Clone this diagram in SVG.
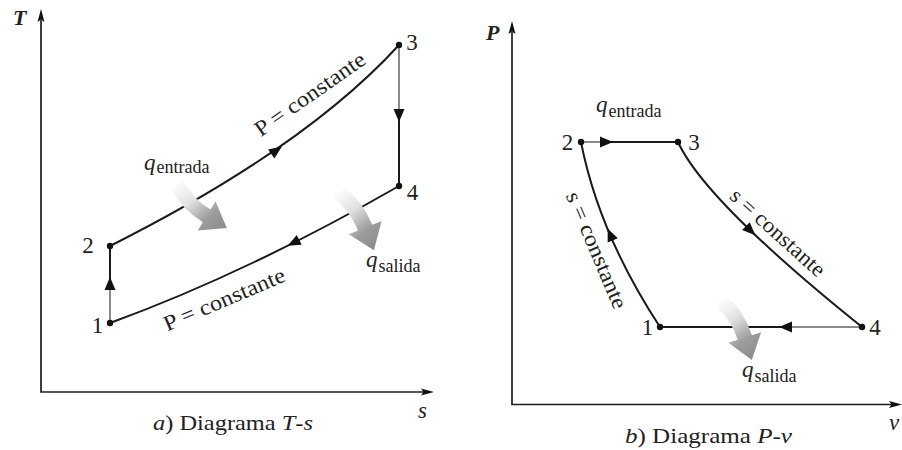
<svg xmlns="http://www.w3.org/2000/svg" xmlns:xlink="http://www.w3.org/1999/xlink" width="902" height="450" viewBox="0 0 902 450" font-family="'Liberation Serif', 'Times New Roman', serif">
<style>
  .ax{fill:none;stroke:#1e1e1e;stroke-width:1.7}
  .ln{fill:none;stroke:#1a1a1a;stroke-width:2}
  .lg{fill:none;stroke:#8a8a8a;stroke-width:2}
  .dot{fill:#111}
  .ah{fill:#111}
  text{font-family:'Liberation Serif','Times New Roman',serif;fill:#222}
  .num{font-size:23px}
  .big{font-size:22px}
  .it{font-style:italic}
  .axl{font-size:22px;font-style:italic;font-weight:bold}
  .q{font-size:23px;font-style:italic}
  .sub{font-size:18px;font-style:normal}
  .heat{fill:url(#hg)}
</style>
<defs>
  <linearGradient id="hg" x1="0" y1="0" x2="1" y2="0">
    <stop offset="0" stop-color="#ffffff"/>
    <stop offset="0.35" stop-color="#e2e2e2"/>
    <stop offset="0.7" stop-color="#9c9c9c"/>
    <stop offset="1" stop-color="#8c8c8c"/>
  </linearGradient>
  <path id="heatArrow" class="heat" d="M0,-7 Q21,-13 43.9,-6.7 L46.4,-15.4 L63.1,6.1 L37.6,15.4 L40.1,6.7 Q21,1 0,7 Z"/>
  <path id="tri" class="ah" d="M6,0 L-7,-5.5 L-7,5.5 Z"/>
</defs>

<!-- T-s diagram axes -->
<g id="ts-axes">
  <path class="ax" d="M41,20 L41,392 L425,392"/>
  <polygon class="ah" points="41,9 37.5,22 41,19.5 44.5,22"/>
  <polygon class="ah" points="434,392 421,388.5 423.5,392 421,395.5"/>
  <text class="axl" x="13" y="25">T</text>
  <text class="num it" x="418" y="418">s</text>
  <text class="big" x="153" y="430" textLength="160" lengthAdjust="spacingAndGlyphs"><tspan class="it">a</tspan>) Diagrama <tspan class="it">T</tspan>-<tspan class="it">s</tspan></text>
</g>

<!-- P-v diagram axes -->
<g id="pv-axes">
  <path class="ax" d="M512,32 L512,404.5 L892,404.5"/>
  <polygon class="ah" points="512,21 508.5,34 512,31.5 515.5,34"/>
  <polygon class="ah" points="902,404.5 889,401 891.5,404.5 889,408"/>
  <text class="axl" x="486" y="40">P</text>
  <text class="num it" x="889" y="430">v</text>
  <text class="big" x="625" y="443" textLength="167" lengthAdjust="spacingAndGlyphs"><tspan class="it">b</tspan>) Diagrama <tspan class="it">P</tspan>-<tspan class="it">v</tspan></text>
</g>

<!-- connectors -->
<g id="connectors">
  <!-- T-s -->
  <path class="lg" d="M110,323 L110,289"/>
  <path class="ln" d="M110,289 L110,246"/>
  <path class="ln" d="M110,246 Q305,148 399,45"/>
  <path class="lg" d="M399,45 L399,110"/>
  <path class="ln" d="M399,110 L399,186"/>
  <path class="ln" d="M399,186 Q247,273 110,323"/>
  <use xlink:href="#tri" href="#tri" transform="translate(110,283) rotate(-90)"/>
  <use xlink:href="#tri" href="#tri" transform="translate(277,150) rotate(-34.5)"/>
  <use xlink:href="#tri" href="#tri" transform="translate(399,116) rotate(90)"/>
  <use xlink:href="#tri" href="#tri" transform="translate(293,243) rotate(153)"/>
  <!-- P-v -->
  <path class="lg" d="M581,142 L601,142"/>
  <path class="ln" d="M601,142 L678,142"/>
  <path class="ln" d="M678,142 Q705,201 862,327"/>
  <path class="lg" d="M862,327 L792,327"/>
  <path class="ln" d="M792,327 L660,327"/>
  <path class="ln" d="M660,327 Q599,234 581,142"/>
  <use xlink:href="#tri" href="#tri" transform="translate(607,142)"/>
  <use xlink:href="#tri" href="#tri" transform="translate(751,231) rotate(44)"/>
  <use xlink:href="#tri" href="#tri" transform="translate(785,327) rotate(180)"/>
  <use xlink:href="#tri" href="#tri" transform="translate(610,234) rotate(-113)"/>
</g>

<!-- T-s nodes -->
<g id="ts-1"><circle class="dot" cx="110" cy="323" r="3.2"/><text class="num" x="97.5" y="333" text-anchor="middle">1</text></g>
<g id="ts-2"><circle class="dot" cx="110" cy="246" r="3.2"/><text class="num" x="88" y="253" text-anchor="middle">2</text></g>
<g id="ts-3"><circle class="dot" cx="399" cy="45" r="3.2"/><text class="num" x="412" y="50" text-anchor="middle">3</text></g>
<g id="ts-4"><circle class="dot" cx="399" cy="186" r="3.2"/><text class="num" x="412.5" y="200" text-anchor="middle">4</text></g>

<!-- T-s labels -->
<g id="ts-labels">
  <text class="big" transform="translate(314,100) rotate(-35)" text-anchor="middle" textLength="130" lengthAdjust="spacingAndGlyphs">P = constante</text>
  <text class="big" transform="translate(227,306) rotate(-23)" text-anchor="middle" textLength="130" lengthAdjust="spacingAndGlyphs">P = constante</text>
  <text class="q" x="144" y="170">q<tspan class="sub" dx="1" dy="3">entrada</tspan></text>
  <text class="q" x="366" y="267">q<tspan class="sub" dx="1" dy="5">salida</tspan></text>
</g>

<!-- T-s heat arrows -->
<g id="ts-heat-in"><use xlink:href="#heatArrow" href="#heatArrow" transform="translate(176,183) rotate(47) scale(1.07,-1.07)"/></g>
<g id="ts-heat-out"><use xlink:href="#heatArrow" href="#heatArrow" transform="translate(337,191) rotate(52.5) scale(1.1)"/></g>

<!-- P-v nodes -->
<g id="pv-1"><circle class="dot" cx="660" cy="327" r="3.2"/><text class="num" x="647.5" y="335" text-anchor="middle">1</text></g>
<g id="pv-2"><circle class="dot" cx="581" cy="142" r="3.2"/><text class="num" x="567.5" y="150" text-anchor="middle">2</text></g>
<g id="pv-3"><circle class="dot" cx="678" cy="142" r="3.2"/><text class="num" x="694" y="150" text-anchor="middle">3</text></g>
<g id="pv-4"><circle class="dot" cx="862" cy="327" r="3.2"/><text class="num" x="875" y="335" text-anchor="middle">4</text></g>

<!-- P-v labels -->
<g id="pv-labels">
  <text class="big" transform="translate(590,253) rotate(67)" text-anchor="middle" textLength="125" lengthAdjust="spacingAndGlyphs">s = constante</text>
  <text class="big" transform="translate(773,238) rotate(42)" text-anchor="middle" textLength="120" lengthAdjust="spacingAndGlyphs">s = constante</text>
  <text class="q" x="596" y="112">q<tspan class="sub" dx="1" dy="5">entrada</tspan></text>
  <text class="q" x="742" y="377">q<tspan class="sub" dx="1" dy="5">salida</tspan></text>
</g>

<!-- P-v heat arrow -->
<g id="pv-heat-out"><use xlink:href="#heatArrow" href="#heatArrow" transform="translate(720,300) rotate(56.5) scale(1.07)"/></g>
</svg>
